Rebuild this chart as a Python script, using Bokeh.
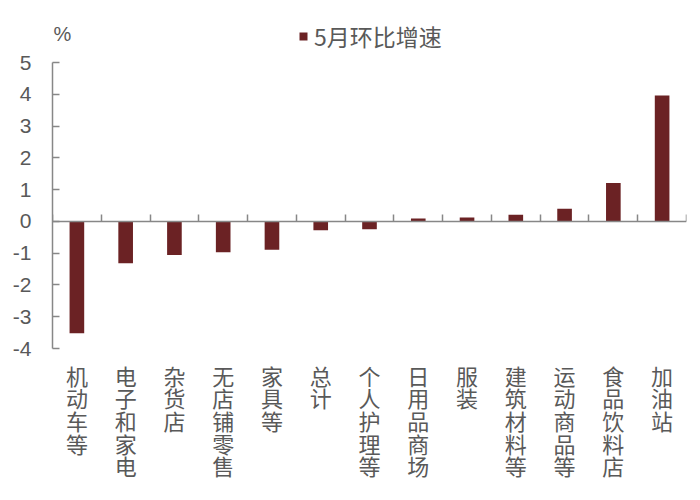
from bokeh.plotting import figure
from bokeh.models import Range1d, FixedTicker, LinearAxis, Legend, LegendItem, Label
from bokeh.embed import file_html
from bokeh.resources import INLINE

categories = ["机动车等", "电子和家电", "杂货店", "无店铺零售", "家具等", "总计", "个人护理等",
              "日用品商场", "服装", "建筑材料等", "运动商品等", "食品饮料店", "加油站"]
values = [-3.52, -1.32, -1.06, -0.97, -0.89, -0.28, -0.25, 0.09, 0.12, 0.21, 0.40, 1.21, 3.96]
y_ticks = [-4, -3, -2, -1, 0, 1, 2, 3, 4, 5]
series_name = "5月环比增速"
unit_label = "%"

BAR = "#6B2224"
AXIS = "#878787"
TXT = "#595959"
CJK = "Noto Sans CJK SC"
NUM = "Liberation Sans"

n = len(categories)
centers = [i + 0.5 for i in range(n)]
bounds = list(range(n + 1))

# layout: axis spans y_ticks over 286 px; extra headroom above the top tick for legend/unit
H, TOP, BOTTOM = 500, 10, 152
axis_px = 286
span = y_ticks[-1] - y_ticks[0]
frame_px = H - TOP - BOTTOM
y_end = y_ticks[0] + span * frame_px / axis_px

p = figure(width=700, height=H, output_backend="svg", toolbar_location=None,
           x_range=Range1d(0, n), y_range=Range1d(y_ticks[0], y_end),
           min_border_left=52, min_border_right=14, min_border_top=TOP, min_border_bottom=BOTTOM,
           x_axis_location=None, y_axis_location=None)
p.outline_line_color = None
p.grid.visible = False
p.background_fill_color = "white"
p.border_fill_color = "white"

r = p.vbar(x=centers, top=values, bottom=0, width=0.3, fill_color=BAR, line_color=None)

# y axis
yax = LinearAxis(ticker=FixedTicker(ticks=y_ticks), bounds=(y_ticks[0], y_ticks[-1]),
                 axis_line_color=AXIS, axis_line_width=1.5,
                 major_tick_line_color=AXIS, major_tick_line_width=1.5,
                 major_tick_in=7, major_tick_out=0, minor_tick_line_color=None,
                 major_label_overrides={t: str(t) for t in y_ticks},
                 major_label_text_font=NUM, major_label_text_font_size="21px",
                 major_label_text_color=TXT, major_label_standoff=21)
p.add_layout(yax, "left")

# zero-line axis with category boundary ticks
zax = LinearAxis(fixed_location=0, ticker=FixedTicker(ticks=bounds), axis_line_color=AXIS,
                 axis_line_width=1.5, major_tick_line_color=AXIS, major_tick_line_width=1.5,
                 major_tick_in=7, major_tick_out=0, minor_tick_line_color=None,
                 major_label_text_font_size="0px", major_label_standoff=0,
                 major_label_overrides={b: "" for b in bounds})
p.add_layout(zax, "below")

# category label axis
lax = LinearAxis(ticker=FixedTicker(ticks=centers), axis_line_color=None,
                 major_tick_line_color=None, minor_tick_line_color=None,
                 major_label_overrides={c: "\n".join(cat) for c, cat in zip(centers, categories)},
                 major_label_text_font=CJK, major_label_text_font_size="22px",
                 major_label_text_color=TXT, major_label_text_line_height=0.71,
                 major_label_standoff=4)
p.add_layout(lax, "below")

legend = Legend(items=[LegendItem(label=series_name, renderers=[r])],
                location=(246, 295), orientation="horizontal",
                border_line_color=None, background_fill_alpha=0,
                glyph_width=10, glyph_height=10, label_standoff=6,
                label_text_font=CJK, label_text_font_size="23px", label_text_color=TXT,
                padding=0, margin=0)
p.add_layout(legend, "center")

p.add_layout(Label(x=10, y=315, x_units="screen", y_units="screen", text=unit_label,
                   text_align="center", text_baseline="middle",
                   text_font=NUM, text_font_size="20px", text_color=TXT))

open("out.html", "w").write(file_html(p, INLINE))
